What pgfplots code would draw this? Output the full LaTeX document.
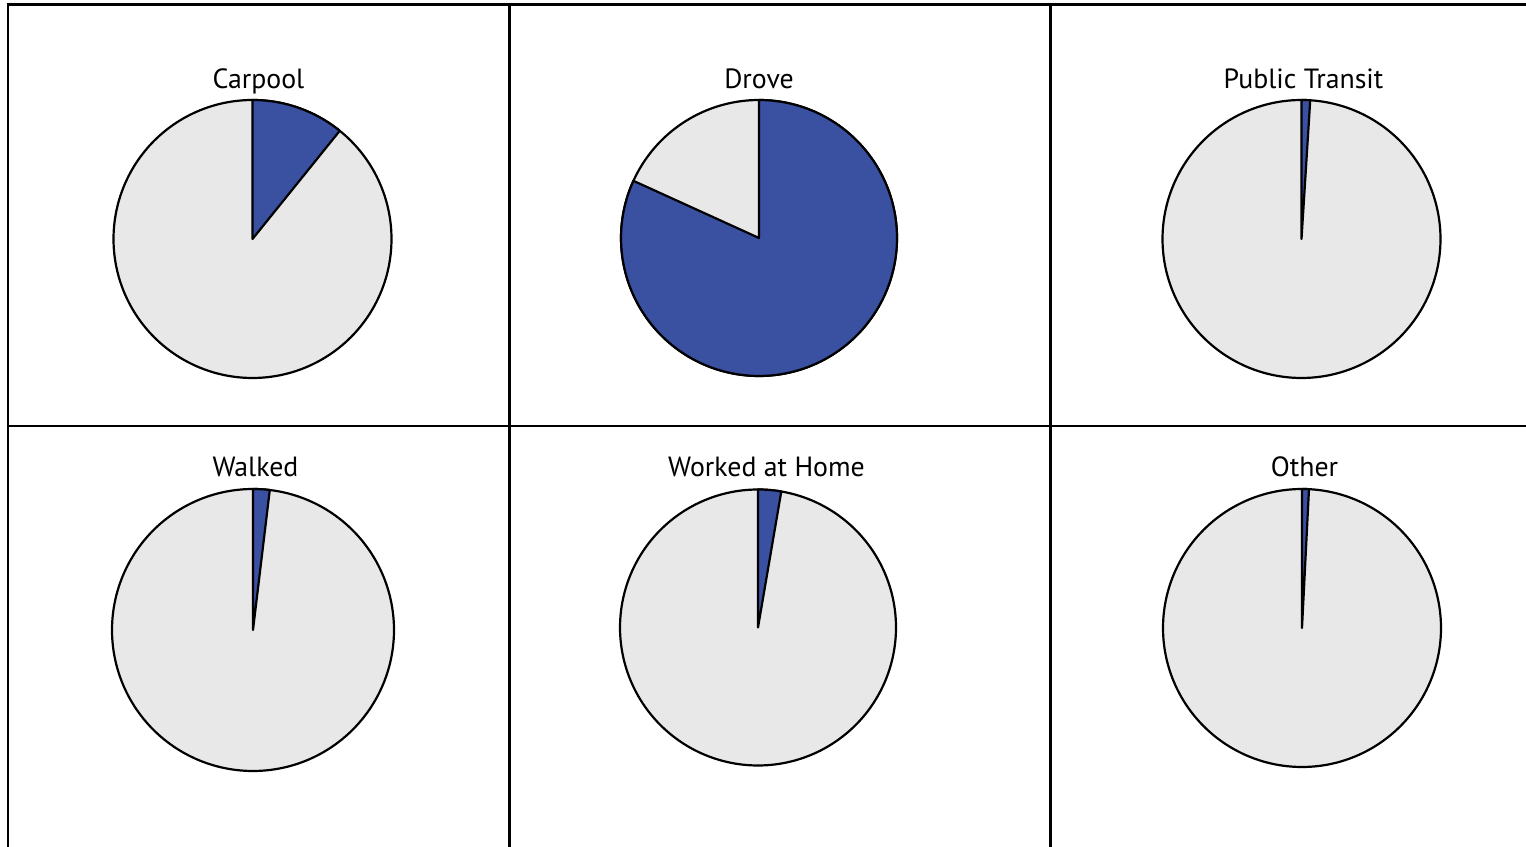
\documentclass[border=0pt]{standalone}
\usepackage{fontspec}
\setmainfont{PT Sans}
\usepackage{pgfplots}
\usepackage{pgfplotstable}
\pgfplotsset{compat=1.18}
\definecolor{pieblue}{RGB}{58,80,161}
\definecolor{piegray}{RGB}{232,232,232}

\pgfplotstableread{
idx value
0 10.8
1 81.8
2 1.0
3 1.9
4 2.7
5 0.8
}\piedata

\pgfplotstablegetelem{0}{value}\of\piedata \let\vA\pgfplotsretval
\pgfplotstablegetelem{1}{value}\of\piedata \let\vB\pgfplotsretval
\pgfplotstablegetelem{2}{value}\of\piedata \let\vC\pgfplotsretval
\pgfplotstablegetelem{3}{value}\of\piedata \let\vD\pgfplotsretval
\pgfplotstablegetelem{4}{value}\of\piedata \let\vE\pgfplotsretval
\pgfplotstablegetelem{5}{value}\of\piedata \let\vF\pgfplotsretval

\pgfplotsset{
  panel/.style={x=0.5pt, y=0.5pt, anchor=origin, ticks=none,
    axis line style={line width=1.1pt, black}, clip=false},
  pierest/.style={fill=piegray, draw=black, line width=1.1pt, domain=0:360, samples=241},
  pieslice/.style={fill=pieblue, draw=black, line width=1.1pt, line join=round, samples=160},
}
\newcommand{\ttl}[3]{\node[anchor=base, inner sep=0pt, font=\fontsize{13.9}{16}\selectfont] at (axis cs:#1,#2) {#3};}

\begin{document}
\begin{tikzpicture}
\useasboundingbox (0,0) rectangle (763pt,423pt);
\begin{scope}
\clip (0,0) rectangle (763pt,423pt);

% Carpool
\begin{axis}[panel, at={(126.25pt,303.5pt)}, xmin=-244.5, xmax=257, ymin=-187, ymax=234.5]
\addplot[pierest] ({139*cos(x)},{139*sin(x)}) -- cycle;
\addplot[pieslice, domain=0:\vA] ({139*sin(3.6*x)},{139*cos(3.6*x)}) -- (axis cs:0,0) -- cycle;
\ttl{6}{150}{Carpool}
\end{axis}

% Drove
\begin{axis}[panel, at={(379.5pt,304pt)}, xmin=-249.5, xmax=291.5, ymin=-188, ymax=233.5]
\addplot[pierest] ({138*cos(x)},{138*sin(x)}) -- cycle;
\addplot[pieslice, domain=0:\vB] ({138*sin(3.6*x)},{138*cos(3.6*x)}) -- (axis cs:0,0) -- cycle;
\ttl{0}{149}{Drove}
\end{axis}

% Public Transit
\begin{axis}[panel, at={(650.75pt,303.5pt)}, xmin=-251, xmax=238.5, ymin=-187, ymax=234.5]
\addplot[pierest] ({139*cos(x)},{139*sin(x)}) -- cycle;
\addplot[pieslice, domain=0:\vC] ({139*sin(3.6*x)},{139*cos(3.6*x)}) -- (axis cs:0,0) -- cycle;
\ttl{2}{150}{Public Transit}
\end{axis}

% Walked
\begin{axis}[panel, at={(126.5pt,108pt)}, xmin=-245, xmax=256.5, ymin=-240, ymax=204]
\addplot[pierest] ({141*cos(x)},{141*sin(x)}) -- cycle;
\addplot[pieslice, domain=0:\vD] ({141*sin(3.6*x)},{141*cos(3.6*x)}) -- (axis cs:0,0) -- cycle;
\ttl{2.5}{153}{Walked}
\end{axis}

% Worked at Home
\begin{axis}[panel, at={(379pt,109.25pt)}, xmin=-248.5, xmax=292.5, ymin=-242.5, ymax=201.5]
\addplot[pierest] ({138*cos(x)},{138*sin(x)}) -- cycle;
\addplot[pieslice, domain=0:\vE] ({138*sin(3.6*x)},{138*cos(3.6*x)}) -- (axis cs:0,0) -- cycle;
\ttl{8.5}{150.5}{Worked at Home}
\end{axis}

% Other
\begin{axis}[panel, at={(651pt,109pt)}, xmin=-251.5, xmax=238, ymin=-242, ymax=202]
\addplot[pierest] ({139*cos(x)},{139*sin(x)}) -- cycle;
\addplot[pieslice, domain=0:\vF] ({139*sin(3.6*x)},{139*cos(3.6*x)}) -- (axis cs:0,0) -- cycle;
\ttl{2.5}{151}{Other}
\end{axis}

\end{scope}
\end{tikzpicture}
\end{document}
